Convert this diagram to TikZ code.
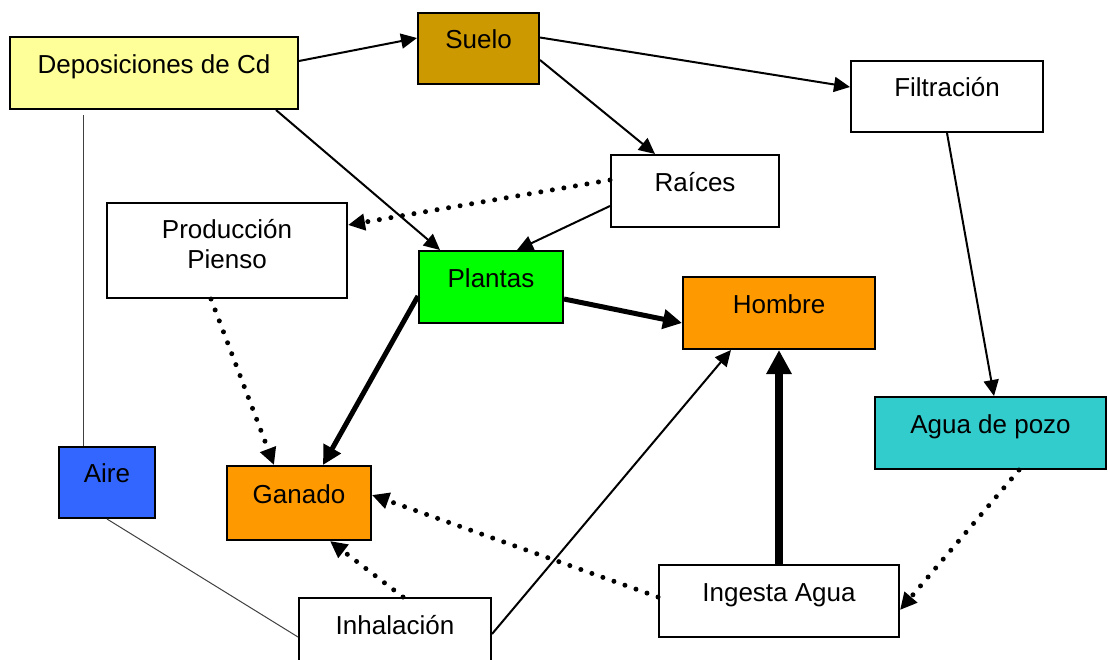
\documentclass[tikz,border=0pt]{standalone}
\usepackage{fontspec}
\setmainfont{Liberation Sans}
\usetikzlibrary{arrows.meta,calc}

\definecolor{cdyellow}{HTML}{FFFF99}
\definecolor{soilgold}{HTML}{CC9900}
\definecolor{plantgreen}{HTML}{00FF00}
\definecolor{lifeorange}{HTML}{FF9900}
\definecolor{welltEAL}{HTML}{33CCCC}
\definecolor{airblue}{HTML}{3366FF}

\begin{document}
\begin{tikzpicture}[x=1pt, y=-1pt,
    box/.style={draw, line width=2pt, minimum height=72pt, inner sep=2pt, align=center,
        font=\fontsize{26}{30}\selectfont, text height=18pt, text depth=18pt},
    link/.style={-{Triangle[length=16pt,width=15pt]}, line width=2pt},
    fatlink/.style={-{Triangle[length=19pt,width=19pt]}, line width=5pt},
    dotlink/.style={-{Triangle[length=17pt,width=16pt]}, line width=5pt, line cap=round,
        dash pattern=on 0pt off 11.7pt},
    wire/.style={line width=1pt, black!75},
]
\useasboundingbox (0,0) rectangle (1108,659);

% Sources and compartments
\node[box, fill=cdyellow, minimum width=288pt] (dep) at (154,73) {Deposiciones de Cd};
\node[box, fill=soilgold, minimum width=121pt, minimum height=71pt] (suelo) at (478.5,48.5) {Suelo};
\node[box, fill=white, minimum width=192pt, minimum height=71pt] (filt) at (947,96.5) {Filtración};
\node[box, fill=white, minimum width=168pt] (raices) at (695,191) {Raíces};
\node[box, fill=white, minimum width=240pt, minimum height=95pt, text height=48pt, text depth=13pt] (prod) at (227,250.5) {Producción\\Pienso};
\node[box, fill=plantgreen, minimum width=144pt] (plantas) at (491,287) {Plantas};
\node[box, fill=lifeorange, minimum width=192pt] (hombre) at (779,313) {Hombre};
\node[box, fill=welltEAL, minimum width=231pt] (agua) at (990.5,433) {Agua de pozo};
\node[box, fill=airblue, minimum width=96pt, minimum height=71pt] (aire) at (107,482.5) {Aire};
\node[box, fill=lifeorange, minimum width=144pt, minimum height=74pt] (ganado) at (299,503) {Ganado};
\node[box, fill=white, minimum width=192pt] (inhal) at (395,634) {Inhalación};
\node[box, fill=white, minimum width=240pt] (ingesta) at (779,601) {Ingesta Agua};

% Plain transfers
\draw[link] ($(dep.east)+(0,-12)$) -- ($(suelo.west)+(0,-10.5)$);
\draw[link] ($(suelo.east)+(0,-11)$) -- ($(filt.west)+(0,-9.5)$);
\draw[link] ($(suelo.east)+(0,11.5)$) -- ($(raices.north)+(-40,0)$);
\draw[link] ($(dep.south)+(122,0)$) -- ($(plantas.north)+(-51,0)$);
\draw[link] ($(raices.west)+(0,15)$) -- ($(plantas.north)+(26,0)$);
\draw[link] (filt.south) -- ($(agua.north)+(3.5,0)$);
\draw[link] (inhal.east) -- ($(hombre.south)+(-48,0)$);

% Main exposure paths
\draw[fatlink] ($(plantas.east)+(0,12)$) -- ($(hombre.west)+(0,10)$);
\draw[fatlink] ($(plantas.west)+(0,9)$) -- ($(ganado.north)+(24,0)$);
\draw[fatlink, line width=8pt, -{Triangle[length=24pt,width=24pt]}] (ingesta.north) -- (hombre.south);

% Indirect paths
\draw[dotlink] ($(raices.west)+(0,-11)$) -- ($(prod.east)+(0,-25.5)$);
\draw[dotlink] ($(prod.south)+(-16,0)$) -- ($(ganado.north)+(-25,0)$);
\draw[dotlink] ($(agua.south)+(28.5,0)$) -- ($(ingesta.east)+(0,9)$);
\draw[dotlink] ($(ingesta.west)+(0,-4)$) -- ($(ganado.east)+(0,-8)$);
\draw[dotlink] ($(inhal.north)+(8,0)$) -- ($(ganado.south)+(31,0)$);

% Air
\draw[wire] ($(dep.south)+(-71,5)$) -- ($(aire.north)+(-24,0)$);
\draw[wire] (aire.south) -- ($(inhal.west)+(0,3)$);
\end{tikzpicture}
\end{document}
